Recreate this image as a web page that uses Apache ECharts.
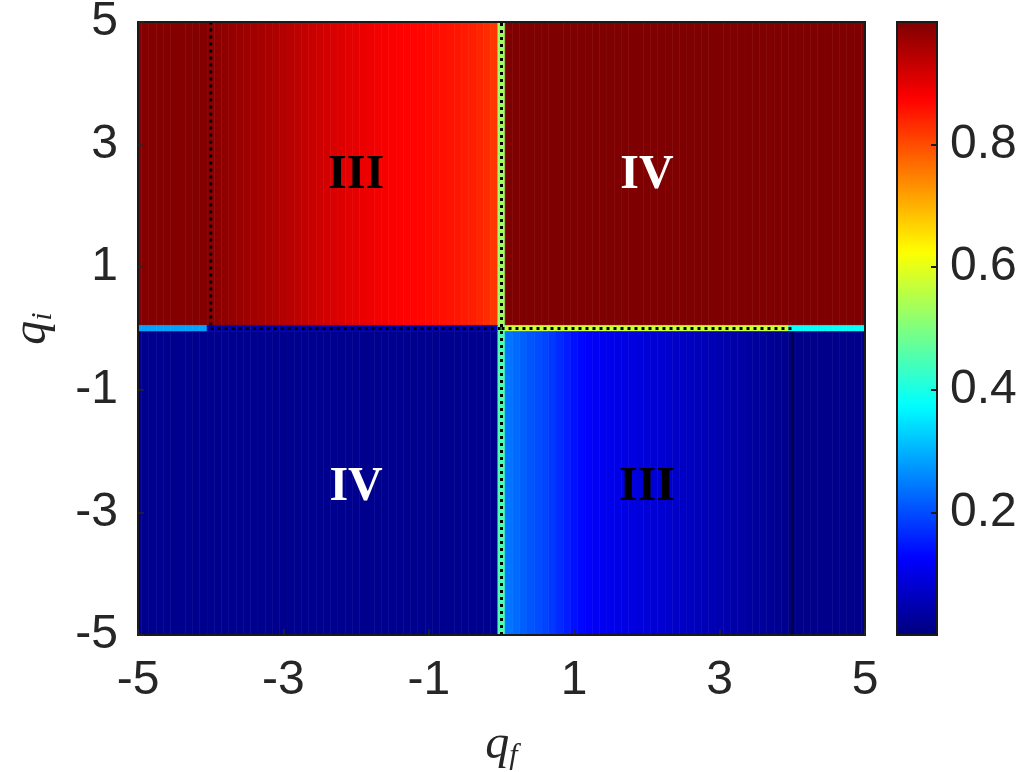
<!DOCTYPE html>
<html>
<head>
<meta charset="utf-8">
<script src="https://cdn.jsdelivr.net/npm/echarts@6/dist/echarts.min.js"></script>
<style>
  html, body { margin: 0; padding: 0; background: #fff; }
  #chart { width: 1019px; height: 772px; }
</style>
</head>
<body>
<div id="chart"></div>
<script>
// Grid of q_f sample points, -5.0 ... 5.0 in steps of 0.1 (101 columns)
const qfPoints = [];
for (let i = 0; i <= 100; i++) qfPoints.push(Math.round((-5 + i * 0.1) * 10) / 10);

// q_i bands: upper half-plane, the q_i = 0 row, lower half-plane
const bandLow  = [0.05, -0.05, -5];
const bandHigh = [5, 0.05, -0.05];

// Values for q_i > 0, one per q_f column
const upperValues = [
  0.995, 0.995, 0.995, 0.995, 0.995, 0.995, 0.995, 0.995, 0.995, 0.995,
  0.990,
  0.985, 0.982, 0.978, 0.974, 0.970, 0.966, 0.962, 0.958, 0.953, 0.949,
  0.944, 0.939, 0.934, 0.929, 0.923, 0.918, 0.913, 0.908, 0.903, 0.899,
  0.895, 0.891, 0.887, 0.883, 0.880, 0.877, 0.874, 0.872, 0.869, 0.866,
  0.863, 0.860, 0.857, 0.853, 0.849, 0.844, 0.839, 0.832, 0.822,
  0.53,
  1.0, 1.0, 1.0, 1.0, 1.0, 1.0, 1.0, 1.0, 1.0, 1.0,
  1.0, 1.0, 1.0, 1.0, 1.0, 1.0, 1.0, 1.0, 1.0, 1.0,
  1.0, 1.0, 1.0, 1.0, 1.0, 1.0, 1.0, 1.0, 1.0, 1.0,
  1.0, 1.0, 1.0, 1.0, 1.0, 1.0, 1.0, 1.0, 1.0, 1.0,
  1.0, 1.0, 1.0, 1.0, 1.0, 1.0, 1.0, 1.0, 1.0, 1.0
];

// Values along q_i = 0
const axisValues = [
  0.286, 0.286, 0.286, 0.286, 0.286, 0.286, 0.286, 0.286, 0.286, 0.286,
  0.04, 0.04, 0.04, 0.04, 0.04, 0.04, 0.04, 0.04, 0.04, 0.04,
  0.04, 0.04, 0.04, 0.04, 0.04, 0.04, 0.04, 0.04, 0.04, 0.04,
  0.04, 0.04, 0.04, 0.04, 0.04, 0.04, 0.04, 0.04, 0.04, 0.04,
  0.04, 0.04, 0.04, 0.04, 0.04, 0.04, 0.04, 0.04, 0.04, 0.04,
  0.48,
  0.57, 0.57, 0.57, 0.57, 0.57, 0.57, 0.57, 0.57, 0.57, 0.57,
  0.57, 0.57, 0.57, 0.57, 0.57, 0.57, 0.57, 0.57, 0.57, 0.57,
  0.57, 0.57, 0.57, 0.57, 0.57, 0.57, 0.57, 0.57, 0.57, 0.57,
  0.57, 0.57, 0.57, 0.57, 0.57, 0.57, 0.57, 0.57, 0.57,
  0.38, 0.38, 0.38, 0.38, 0.38, 0.38, 0.38, 0.38, 0.38, 0.38, 0.38
];

// Values for q_i < 0
const lowerValues = [
  0.015, 0.015, 0.015, 0.015, 0.015, 0.015, 0.015, 0.015, 0.015, 0.015,
  0.015, 0.015, 0.015, 0.015, 0.015, 0.015, 0.015, 0.015, 0.015, 0.015,
  0.015, 0.015, 0.015, 0.015, 0.015, 0.015, 0.015, 0.015, 0.015, 0.015,
  0.015, 0.015, 0.015, 0.015, 0.015, 0.015, 0.015, 0.015, 0.015, 0.015,
  0.015, 0.015, 0.015, 0.015, 0.015, 0.015, 0.015, 0.015, 0.015, 0.015,
  0.45,
  0.240, 0.230, 0.219, 0.209, 0.201, 0.192, 0.180, 0.166, 0.153, 0.141,
  0.131, 0.122, 0.116, 0.111, 0.107, 0.103, 0.099, 0.095, 0.091, 0.088,
  0.085, 0.081, 0.077, 0.072, 0.068, 0.064, 0.060, 0.056, 0.052, 0.048,
  0.044, 0.041, 0.037, 0.033, 0.030, 0.026, 0.022, 0.019, 0.016,
  0.004,
  0.012, 0.012, 0.012, 0.012, 0.012, 0.012, 0.012, 0.012, 0.012, 0.012
];

// Phase boundaries (dotted)
const boundaryQf = [[-4, -4], [-4, 0], [0, 0], [0, 4]];
const boundaryQi = [[0.05, 5], [0, 0], [-5, 5], [0, 0]];
const faintBoundaryQf = [[4, 4]];
const faintBoundaryQi = [[-5, -0.05]];

// Region labels
const regionNames = ['III', 'IV', 'IV', 'III'];
const regionQf = [-2.0, 2.0, -2.0, 2.0];
const regionQi = [2.5, 2.5, -2.6, -2.6];

// Axis ticks
const xTicks = [-5, -3, -1, 1, 3, 5];
const yTicks = [-5, -3, -1, 1, 3, 5];
const colorTicks = [0.2, 0.4, 0.6, 0.8];
const colorMin = 0;
const colorMax = 1;

// Jet colour map, evenly spaced stops
const jet = ['#00007f', '#0000ff', '#007fff', '#00ffff', '#7fff7f',
             '#ffff00', '#ff7f00', '#ff0000', '#7f0000'];

const cells = [];
const bands = [upperValues, axisValues, lowerValues];
bands.forEach((vals, b) => {
  qfPoints.forEach((q, i) => {
    cells.push([q, bandLow[b], bandHigh[b], vals[i]]);
  });
});

const halfW = 0.05;
function renderCell(params, api) {
  const x = api.value(0);
  const lo = api.value(1);
  const hi = api.value(2);
  const p0 = api.coord([x - halfW, hi]);
  const p1 = api.coord([x + halfW, lo]);
  const rect = echarts.graphic.clipRectByRect(
    { x: p0[0], y: p0[1], width: p1[0] - p0[0], height: p1[1] - p0[1] },
    { x: params.coordSys.x, y: params.coordSys.y,
      width: params.coordSys.width, height: params.coordSys.height });
  if (!rect) return;
  const c = api.visual('color');
  return { type: 'rect', shape: rect,
           style: { fill: c, stroke: c, lineWidth: 0.6 } };
}

const tickFont = { fontFamily: 'Liberation Sans, Arial, sans-serif', fontSize: 48, color: '#262626' };
const nameRich = {
  q: { fontFamily: 'Liberation Serif, Times New Roman, serif', fontStyle: 'italic', fontSize: 48, color: '#262626' },
  s: { fontFamily: 'Liberation Serif, Times New Roman, serif', fontStyle: 'italic', fontSize: 30, color: '#262626', verticalAlign: 'bottom', padding: [22, 0, 0, 0] }
};
const hiddenLine = { show: false, onZero: false };

const series = [{
  type: 'custom',
  xAxisIndex: 0, yAxisIndex: 0,
  renderItem: renderCell,
  encode: { x: 0, y: 1 },
  dimensions: ['qf', 'lo', 'hi', 'v'],
  data: cells,
  silent: true
}];

boundaryQf.forEach((xs, k) => {
  series.push({
    type: 'line', xAxisIndex: 0, yAxisIndex: 0, z: 5, silent: true,
    showSymbol: false, symbol: 'none',
    data: [[xs[0], boundaryQi[k][0]], [xs[1], boundaryQi[k][1]]],
    lineStyle: { color: '#000', width: 3, type: [3, 4] }
  });
});
faintBoundaryQf.forEach((xs, k) => {
  series.push({
    type: 'line', xAxisIndex: 0, yAxisIndex: 0, z: 5, silent: true,
    showSymbol: false, symbol: 'none',
    data: [[xs[0], faintBoundaryQi[k][0]], [xs[1], faintBoundaryQi[k][1]]],
    lineStyle: { color: '#000030', width: 3, opacity: 0.6 }
  });
});

// Region labels: III dark, IV light
series.push({
  type: 'scatter', xAxisIndex: 0, yAxisIndex: 0, z: 6, silent: true,
  symbolSize: 0,
  itemStyle: { opacity: 1 },
  data: regionNames.map((n, i) => ({
    name: n,
    value: [regionQf[i], regionQi[i]],
    label: { color: n === 'IV' ? '#ffffff' : '#000000' }
  })),
  label: {
    show: true, position: 'inside',
    formatter: p => p.name,
    fontFamily: 'Liberation Serif, Times New Roman, serif',
    fontWeight: 'bold', fontSize: 48,
    opacity: 1
  },
  emphasis: { disabled: true }
});

series.push({ type: 'line', xAxisIndex: 1, yAxisIndex: 1, data: [], silent: true });

const option = {
  animation: false,
  backgroundColor: '#fff',
  grid: [
    { left: 138, right: 154, top: 22, bottom: 137, show: true, z: 10,
      outerBoundsMode: 'none', containLabel: false,
      backgroundColor: 'transparent', borderColor: '#1a1a1a', borderWidth: 2 },
    { left: 897, top: 22, width: 40, height: 613, show: true, z: 10,
      outerBoundsMode: 'none', containLabel: false,
      backgroundColor: 'transparent', borderColor: '#1a1a1a', borderWidth: 2 }
  ],
  xAxis: [
    { type: 'value', gridIndex: 0, min: -5, max: 5, interval: 1, z: 10,
      splitLine: { show: false },
      axisLine: hiddenLine,
      axisTick: { show: true, inside: true, length: 6, customValues: xTicks,
                  lineStyle: { color: '#262626', width: 1.5 } },
      axisLabel: Object.assign({ margin: 22, customValues: xTicks }, tickFont),
      name: '{q|q}{s|f}', nameLocation: 'middle', nameGap: 84,
      nameTextStyle: { rich: nameRich }
    },
    { type: 'value', gridIndex: 1, min: 0, max: 1, show: false, axisLine: hiddenLine }
  ],
  yAxis: [
    { type: 'value', gridIndex: 0, min: -5, max: 5, interval: 1, z: 10,
      splitLine: { show: false },
      axisLine: hiddenLine,
      axisTick: { show: true, inside: true, length: 6, customValues: yTicks,
                  lineStyle: { color: '#262626', width: 1.5 } },
      axisLabel: Object.assign({ margin: 20, customValues: yTicks }, tickFont),
      name: '{q|q}{s|i}', nameLocation: 'middle', nameGap: 80,
      nameTextStyle: { rich: nameRich }
    },
    { type: 'value', gridIndex: 1, min: colorMin, max: colorMax, interval: 0.2,
      position: 'right', z: 20,
      splitLine: { show: false },
      axisLine: hiddenLine,
      axisTick: { show: true, inside: true, length: 6, customValues: colorTicks,
                  lineStyle: { color: '#1a1a1a', width: 2 } },
      axisLabel: Object.assign({ margin: 13, customValues: colorTicks,
                                 formatter: v => v.toFixed(1) }, tickFont)
    }
  ],
  visualMap: {
    type: 'continuous',
    z: 1,
    seriesIndex: 0,
    dimension: 3,
    min: colorMin, max: colorMax,
    calculable: false,
    hoverLink: false,
    realtime: false,
    left: 897, top: 22,
    itemWidth: 40, itemHeight: 613,
    padding: 0,
    text: null,
    showLabel: false,
    inRange: { color: jet }
  },
  series: series
};

const chart = echarts.init(document.getElementById('chart'), null, { renderer: 'canvas' });
chart.setOption(option);
</script>
</body>
</html>
